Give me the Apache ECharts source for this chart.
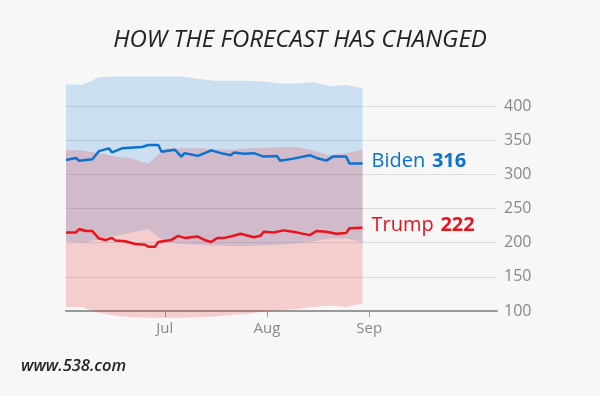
<!DOCTYPE html>
<html>
<head>
<meta charset="utf-8">
<script src="https://cdn.jsdelivr.net/npm/echarts@6/dist/echarts.min.js"></script>
<style>
    html, body { margin: 0; padding: 0; background: #f7f7f7; }
    #chart { width: 600px; height: 396px; }
</style>
</head>
<body>
<div id="chart"></div>
<script>
// all days are counted from June 1, 2020
var bidenDays = [0, 3, 4, 8, 9, 10, 13, 14, 17, 23, 25, 28, 29, 33, 35, 36, 40, 43, 44, 47, 50, 51, 54, 57, 60, 64, 65, 69, 74, 76, 79, 81, 85, 86, 90];
var bidenValues = [321, 324, 320, 322, 328, 334, 338, 332, 338, 340, 343, 343, 333, 336, 326, 331, 327, 333, 335, 331, 328, 332, 330, 331, 326, 327, 320, 323, 328, 324, 320, 326, 326, 316, 316];

var trumpDays = [0, 3, 4, 6, 8, 10, 12, 14, 15, 18, 21, 24, 25, 27, 28, 32, 34, 36, 40, 42, 44, 46, 48, 50, 53, 57, 59, 60, 63, 66, 69, 71, 74, 76, 79, 82, 85, 86, 90];
var trumpValues = [215, 215, 220, 217, 217, 206, 204, 207, 203, 202, 198, 197, 194, 194, 201, 204, 210, 207, 209, 204, 201, 207, 207, 209, 213, 208, 210, 216, 215, 218, 216, 214, 211, 217, 216, 213, 214, 221, 222];

var bandDays = [0, 5, 10, 15, 20, 25, 30, 35, 40, 45, 50, 55, 60, 65, 70, 75, 80, 85, 90];
var bidenHigh = [432, 431, 442, 443, 443, 443, 443, 443, 440, 437, 437, 437, 436, 433, 433, 435, 429, 431, 426];
var bidenLow = [202, 200, 205, 210, 215, 220, 201, 198, 197, 196, 195, 195, 196, 197, 199, 202, 206, 206, 201];
var trumpHigh = [336, 335, 331, 326, 323, 315, 338, 338, 338, 337, 336, 338, 339, 340, 340, 335, 328, 331, 336];
var trumpLow = [106, 106, 97, 93, 91, 90, 90, 90, 91, 92, 94, 96, 99, 101, 103, 106, 108, 106, 111];

// month starts (Jul 1, Aug 1, Sep 1) as day numbers
var monthTicks = [30, 61, 92];
var monthLabels = ['Jul', 'Aug', 'Sep'];

var BLUE = '#0b72d0', RED = '#e8131c';

function pairs(days, vals) {
    return days.map(function (d, i) { return [d, vals[i]]; });
}

var myChart = echarts.init(document.getElementById('chart'));

// band = one polygon: upper edge forward, lower edge back
function band(name, hi, lo, color) {
    return {
        name: name, type: 'custom', silent: true, clip: false,
        data: bandDays.map(function (d, i) { return [d, hi[i], lo[i]]; }),
        encode: {x: 0, y: [1, 2]},
        renderItem: function (params, api) {
            if (params.dataIndex !== 0) return;
            var pts = [];
            for (var i = 0; i < bandDays.length; i++) {
                pts.push(api.coord([bandDays[i], hi[i]]));
            }
            for (var j = bandDays.length - 1; j >= 0; j--) {
                pts.push(api.coord([bandDays[j], lo[j]]));
            }
            return {type: 'polygon', shape: {points: pts}, style: {fill: color}};
        }
    };
}
function candidate(name, days, vals, color) {
    var last = vals[vals.length - 1];
    return {
        name: name, type: 'line', data: pairs(days, vals),
        symbol: 'none', clip: false, z: 5,
        lineStyle: {color: color, width: 2.5},
        endLabel: {
            show: true, distance: 9, offset: [0, -2],
            formatter: function () { return '{n|' + name + '}  {b|' + last + '}'; },
            rich: {
                n: {color: color, fontSize: 20, fontFamily: 'Open Sans'},
                b: {color: color, fontSize: 20, fontWeight: 'bold', fontFamily: 'Open Sans'}
            }
        }
    };
}

var option = {
    backgroundColor: '#f7f7f7',
    animation: false,
    title: {
        text: 'HOW THE FORECAST HAS CHANGED',
        left: 'center', top: 23,
        textStyle: {fontStyle: 'italic', fontWeight: 'normal', fontSize: 24, color: '#222', fontFamily: 'Open Sans'}
    },
    grid: {left: 66, right: 103, top: 106, bottom: 85},
    xAxis: {
        type: 'value',
        min: 0,
        max: 130.8,
        axisLine: {lineStyle: {color: '#999', width: 2}},
        axisTick: {show: true, customValues: monthTicks, length: 6, lineStyle: {color: '#999'}},
        axisLabel: {
            customValues: monthTicks, color: '#888', fontSize: 15, margin: 10, fontFamily: 'Open Sans',
            formatter: function (v) { return monthLabels[monthTicks.indexOf(v)]; }
        },
        splitLine: {show: false}
    },
    yAxis: {
        type: 'value',
        position: 'right',
        min: 100, max: 400, interval: 50,
        axisLine: {show: false},
        axisTick: {show: false},
        axisLabel: {color: '#888', fontSize: 16, margin: 7, fontFamily: 'Open Sans'},
        splitLine: {lineStyle: {color: '#dcdcdc', width: 1}}
    },
    graphic: [{
        type: 'text', left: 21, top: 358,
        style: {text: 'www.538.com', fontSize: 16.5, fontStyle: 'italic', fontWeight: 600, fill: '#222', fontFamily: 'Open Sans'}
    }],
    series: [
        band('bidenBand', bidenHigh, bidenLow, 'rgba(10,114,209,0.18)'),
        band('trumpBand', trumpHigh, trumpLow, 'rgba(232,20,28,0.18)'),
        candidate('Biden', bidenDays, bidenValues, BLUE),
        candidate('Trump', trumpDays, trumpValues, RED)
    ]
};
myChart.setOption(option);

window.onresize = function () {
    myChart.resize();
};
</script>
</body>
</html>
